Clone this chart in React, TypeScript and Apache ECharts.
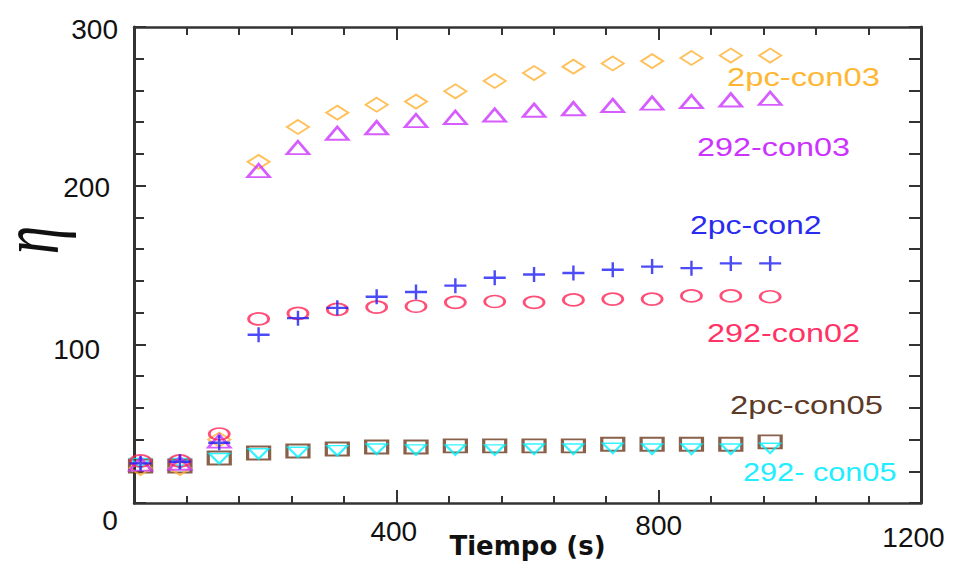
import React, { useEffect, useRef } from "react";
import * as echarts from "echarts";

// Time (s)
const times = [10, 70, 130, 190, 250, 310, 370, 430, 490, 550, 610, 670, 730, 790, 850, 910, 970];

// η values per series
const pc_con03 = [22, 22, 40, 215, 237, 246, 251, 253, 259.5, 266, 271, 275, 277, 278.5, 280.5, 282, 282];
const c292_con03 = [24.5, 25, 39, 209.5, 224, 233, 236.5, 241, 243, 244.5, 247.5, 248.5, 250.5, 252, 253, 254, 255];
const pc_con2 = [25, 26, 38, 106, 116.5, 123, 130, 133, 137, 142, 144, 145, 147, 149, 148, 151, 151];
const c292_con02 = [26.5, 26.5, 43.5, 116, 119.5, 122, 123.5, 124, 126.5, 127, 126.5, 128, 128.5, 128.5, 130.5, 130.5, 130];
const pc_con05 = [23.3, 23.3, 28.4, 31.5, 32.8, 34, 35.3, 35.3, 36, 36, 36, 36, 37, 37, 37, 37, 38.5];
const c292_con05 = [25, 25, 28, 31, 32, 33, 34, 33.5, 33.5, 33.5, 34, 34, 34.5, 34, 34, 34, 34.5];

const xTicks = [0, 400, 800, 1200];
const yTicks = [0, 100, 200, 300];

const seriesNames = ["2pc-con05", "292- con05", "2pc-con03", "292-con03", "292-con02", "2pc-con2"];

const AX = "#333";
const TICK_FONT = '"Liberation Sans", Arial, sans-serif';

function pair(vals: number[]) {
  return times.map((t, i) => [t, vals[i]]);
}

export default function App() {
  const ref = useRef<HTMLDivElement>(null);
  useEffect(() => {
    if (!ref.current) return;
    const chart = echarts.init(ref.current, undefined, { renderer: "svg" });

    const xRich: any = {};
    const xPad: Record<number, number[]> = {
      0: [0, 48, 0, 0],
      400: [22, 5, 0, 0],
      800: [10, 0, 0, 0],
      1200: [34, 15, 0, 0],
    };
    xTicks.forEach((v) => {
      xRich["a" + v] = { fontSize: 28, fontFamily: TICK_FONT, color: "#111", lineHeight: 26, padding: xPad[v] };
    });
    const yRich: any = {};
    const yPad: Record<number, number[]> = {
      0: [0, 0, 0, 0],
      100: [11, 18, 0, 0],
      200: [4, 8, 0, 0],
      300: [4, 0, 0, 0],
    };
    yTicks.forEach((v) => {
      yRich["b" + v] = { fontSize: 28, fontFamily: TICK_FONT, color: "#111", lineHeight: 26, padding: yPad[v] };
    });

    const hollow = (c: string, w: number) => ({ color: "rgba(0,0,0,0)", borderColor: c, borderWidth: w });

    const option: any = {
      animation: false,
      backgroundColor: "#fff",
      grid: { left: 134, right: 33, top: 27, bottom: 63, containLabel: false, outerBoundsMode: "none" },
      xAxis: [
        {
          type: "value",
          min: 0,
          max: 1200,
          interval: 400,
          position: "bottom",
          name: "Tiempo (s)",
          nameLocation: "middle",
          nameGap: 30,
          nameMoveOverlap: false,
          nameTextStyle: { fontFamily: '"DejaVu Sans", sans-serif', fontWeight: "bold", fontSize: 26, color: "#111" },
          axisLine: { show: true, onZero: false, lineStyle: { color: AX, width: 2.5 } },
          axisTick: { show: true, inside: true, length: 13, lineStyle: { color: AX, width: 2 } },
          minorTick: { show: true, splitNumber: 5, length: 7, lineStyle: { color: AX, width: 2 } },
          splitLine: { show: false },
          axisLabel: {
            margin: 4,
            formatter: (v: number) => `{a${v}|${v}}`,
            rich: xRich,
          },
        },
        {
          type: "value",
          min: 0,
          max: 1200,
          interval: 400,
          position: "top",
          axisLine: { show: true, onZero: false, lineStyle: { color: AX, width: 2.5 } },
          axisTick: { show: true, inside: true, length: 13, lineStyle: { color: AX, width: 2 } },
          minorTick: { show: true, splitNumber: 5, length: 8, lineStyle: { color: AX, width: 2 } },
          splitLine: { show: false },
          axisLabel: { show: false },
        },
      ],
      yAxis: [
        {
          type: "value",
          min: 0,
          max: 300,
          interval: 100,
          position: "left",
          axisLine: { show: true, onZero: false, lineStyle: { color: AX, width: 3 } },
          axisTick: { show: true, inside: true, length: 12, lineStyle: { color: AX, width: 2 } },
          minorTick: { show: true, splitNumber: 5, length: 10, lineStyle: { color: AX, width: 2 } },
          splitLine: { show: false },
          axisLabel: {
            margin: 16,
            formatter: (v: number) => (v === 0 ? "" : `{b${v}|${v}}`),
            rich: yRich,
          },
        },
        {
          type: "value",
          min: 0,
          max: 300,
          interval: 100,
          position: "right",
          axisLine: { show: true, onZero: false, lineStyle: { color: AX, width: 3 } },
          axisTick: { show: true, inside: true, length: 12, lineStyle: { color: AX, width: 2 } },
          minorTick: { show: true, splitNumber: 5, length: 12, lineStyle: { color: AX, width: 2 } },
          splitLine: { show: false },
          axisLabel: { show: false },
        },
      ],
      series: [
        {
          name: seriesNames[0],
          type: "scatter",
          data: pair(pc_con05),
          symbol: "rect",
          symbolSize: [22, 13],
          itemStyle: hollow("#6B3A1E", 2.5),
          z: 2,
        },
        {
          name: seriesNames[1],
          type: "scatter",
          data: pair(c292_con05),
          symbol: "path://M0,0L10,0L5,10Z",
          symbolSize: [20, 10],
          itemStyle: hollow("#00F0FF", 2),
          z: 3,
        },
        {
          name: seriesNames[2],
          type: "scatter",
          data: pair(pc_con03),
          symbol: "diamond",
          symbolSize: [22, 14],
          itemStyle: hollow("#FFB030", 2),
          z: 4,
        },
        {
          name: seriesNames[3],
          type: "scatter",
          data: pair(c292_con03),
          symbol: "triangle",
          symbolSize: [22, 13],
          itemStyle: hollow("#CC33FF", 2.5),
          z: 5,
        },
        {
          name: seriesNames[4],
          type: "scatter",
          data: pair(c292_con02),
          symbol: "path://M0,5A5,5 0 1,0 10,5A5,5 0 1,0 0,5Z",
          symbolSize: [20, 12],
          itemStyle: hollow("#FF2255", 2.2),
          z: 6,
        },
        {
          name: seriesNames[5],
          type: "scatter",
          data: pair(pc_con2),
          symbol: "path://M0,4.2H10V5.8H0Z M4.45,0H5.55V10H4.45Z",
          symbolSize: [22, 15],
          itemStyle: { color: "#1E1EF5" },
          z: 7,
        },
      ],
      graphic: [
        {
          type: "text",
          x: 30,
          y: 240,
          rotation: Math.PI / 2,
          scaleX: 0.95,
          scaleY: 1.4,
          style: {
            text: "η",
            font: 'italic 60px "Liberation Serif", serif',
            lineHeight: 36,
            fill: "#111",
            align: "center",
            verticalAlign: "middle",
          },
        },
        { type: "text", x: 727, y: 77, scaleX: 1.26, style: { text: "2pc-con03", font: '26px "Liberation Sans", Arial', fill: "#FFB733", verticalAlign: "middle" } },
        { type: "text", x: 697, y: 147, scaleX: 1.245, style: { text: "292-con03", font: '26px "Liberation Sans", Arial', fill: "#CC33FF", verticalAlign: "middle" } },
        { type: "text", x: 690, y: 225, scaleX: 1.23, style: { text: "2pc-con2", font: '26px "Liberation Sans", Arial', fill: "#2B2BF0", verticalAlign: "middle" } },
        { type: "text", x: 707, y: 333, scaleX: 1.245, style: { text: "292-con02", font: '26px "Liberation Sans", Arial', fill: "#FF3366", verticalAlign: "middle" } },
        { type: "text", x: 730, y: 405, scaleX: 1.26, style: { text: "2pc-con05", font: '26px "Liberation Sans", Arial', fill: "#5C3A28", verticalAlign: "middle" } },
        { type: "text", x: 743, y: 472, scaleX: 1.18, style: { text: "292- con05", font: '26px "Liberation Sans", Arial', fill: "#22EEFF", verticalAlign: "middle" } },
      ],
    };
    chart.setOption(option);
    return () => chart.dispose();
  }, []);

  return (
    <div
      ref={ref}
      style={{ position: "fixed", left: 0, top: 0, width: 954, height: 566, background: "#fff" }}
    />
  );
}
